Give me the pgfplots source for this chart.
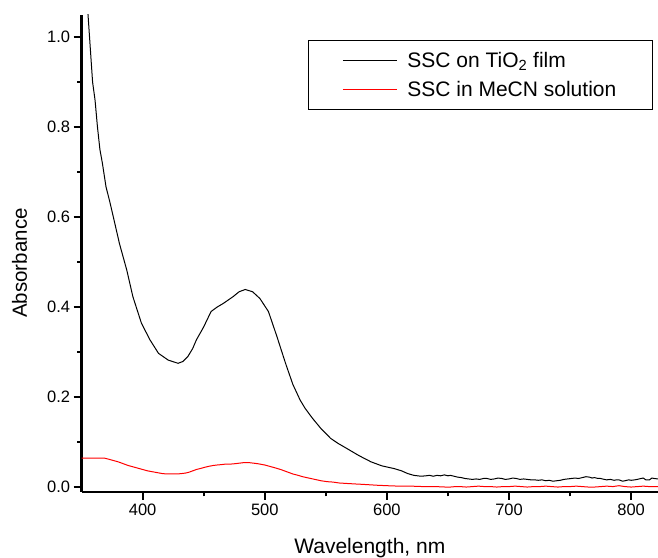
\documentclass[border=0pt]{standalone}
\usepackage{fontspec}
\setmainfont{Liberation Sans}
\usepackage{pgfplots}
\pgfplotsset{compat=1.18}
\begin{document}
\begin{tikzpicture}
\begin{axis}[
scale only axis,
width=576.4pt,
height=477pt,
xmin=350, xmax=822,
ymin=-0.011, ymax=1.049,
axis lines*=left,
axis line style={line width=2.2pt},
every outer x axis line/.append style={line width=2.2pt},
every outer y axis line/.append style={line width=2.2pt},
tick align=outside,
major tick length=8pt,
minor tick length=4.5pt,
tick style={black, line width=2pt},
xtick={400,500,600,700,800},
ytick={0,0.2,0.4,0.6,0.8,1.0},
minor x tick num=1,
minor y tick num=1,
/pgf/number format/assume math mode=true,
tick label style={font=\fontsize{16.5}{19}\selectfont},
yticklabel style={/pgf/number format/.cd, fixed, fixed zerofill, precision=1},
xlabel={Wavelength, nm},
ylabel={Absorbance},
xlabel style={at={(axis description cs:0.5,-0.1174)}, anchor=center, font=\fontsize{21}{25}\selectfont},
ylabel style={at={(axis description cs:-0.1076,0.48)}, anchor=center, font=\fontsize{20.5}{24}\selectfont},
legend image code/.code={\draw[#1] (0pt,0pt) -- (54pt,0pt);},
legend style={draw=black, line width=1pt, at={(0.991,0.948)}, anchor=north east,
  font=\fontsize{21}{25}\selectfont, inner xsep=34pt, inner ysep=10pt,
  row sep=8pt, column sep=8pt, cells={anchor=west}},
]
\addplot[black, line width=1pt] coordinates {
(354.5,1.08) (356,1.02) (359,0.90) (361,0.86) (363,0.80) (365,0.75) (367,0.72)
(370,0.667) (373,0.635) (376,0.60) (381,0.541) (387,0.482) (392,0.423)
(399,0.364) (406,0.327) (413,0.297) (421,0.282) (429,0.275) (433,0.279)
(437,0.29) (441,0.308) (444,0.327) (450,0.356) (456,0.39) (461,0.40)
(466,0.408) (474,0.423) (479,0.434) (484,0.439) (490,0.434) (496,0.419)
(503,0.39) (510,0.334) (517,0.275) (523,0.228) (529,0.193) (533,0.175)
(539,0.153) (546,0.13) (554,0.108) (560,0.097) (567,0.086) (577,0.07)
(587,0.056) (596,0.047) (606,0.041) (612,0.036) (617,0.030) (622,0.026)
(628,0.024) (632,0.025) (635,0.026) (638,0.024) (641,0.026) (644,0.025)
(647,0.027) (650,0.025) (652,0.026) (655,0.024) (658,0.022) (661,0.021)
(664,0.019) (667,0.018) (670,0.017) (673,0.018) (676,0.017) (679,0.019)
(682,0.019) (685,0.017) (688,0.018) (691,0.020) (694,0.019) (697,0.017)
(700,0.018) (703,0.020) (706,0.019) (709,0.017) (712,0.018) (715,0.017)
(718,0.016) (721,0.016) (724,0.015) (727,0.016) (730,0.014) (733,0.015)
(736,0.013) (739,0.014) (742,0.015) (745,0.017) (748,0.018) (751,0.019)
(754,0.020) (757,0.019) (760,0.021) (763,0.023) (766,0.022) (768,0.020)
(770,0.021) (773,0.019) (775,0.019) (778,0.017) (780,0.016) (783,0.017)
(786,0.015) (788,0.016) (790,0.016) (793,0.013) (795,0.014) (798,0.016)
(800,0.015) (803,0.016) (805,0.017) (808,0.019) (810,0.020) (812,0.016)
(815,0.016) (817,0.020) (819,0.019) (822,0.018)
};
\addplot[red, line width=1pt] coordinates {
(350,0.064) (355,0.064) (360,0.064) (365,0.064) (369,0.064) (372,0.062)
(376,0.059) (380,0.056) (384,0.052) (388,0.048) (392,0.045) (396,0.042)
(400,0.039) (404,0.036) (408,0.034) (412,0.032) (416,0.030) (420,0.029)
(424,0.029) (428,0.029) (432,0.030) (435,0.031) (438,0.033) (441,0.036)
(444,0.039) (447,0.041) (451,0.044) (454,0.046) (458,0.048) (461,0.049)
(465,0.050) (468,0.051) (472,0.051) (476,0.052) (479,0.053) (482,0.054)
(485,0.054) (488,0.054) (491,0.053) (494,0.052) (496,0.051) (500,0.049)
(504,0.046) (508,0.043) (513,0.039) (516,0.036) (520,0.032) (523,0.029)
(526,0.027) (531,0.023) (536,0.020) (541,0.017) (546,0.014) (551,0.012)
(556,0.011) (561,0.009) (567,0.008) (573,0.007) (580,0.006) (586,0.005)
(592,0.004) (600,0.003) (610,0.002) (620,0.002) (630,0.001) (640,0.001)
(648,0.000) (652,0.000) (656,0.001) (660,0.001) (665,0.000) (670,0.001)
(675,0.002) (680,0.001) (685,0.001) (690,0.000) (695,0.001) (700,0.001)
(705,0.002) (710,0.001) (715,0.000) (720,0.001) (725,0.001) (730,0.002)
(735,0.001) (740,0.000) (745,0.001) (750,0.001) (755,0.002) (760,0.001)
(765,0.000) (770,0.000) (775,0.001) (780,0.002) (785,0.001) (790,0.003)
(795,0.001) (800,0.000) (805,0.001) (810,0.002) (815,0.001) (822,0.001)
};
\legend{SSC on TiO\textsubscript{2} film, SSC in MeCN solution}
\end{axis}
\pgfresetboundingbox
\path ([xshift=-81.6pt,yshift=-66pt]current axis.south west) rectangle ([yshift=15pt]current axis.north east);
\end{tikzpicture}
\end{document}
